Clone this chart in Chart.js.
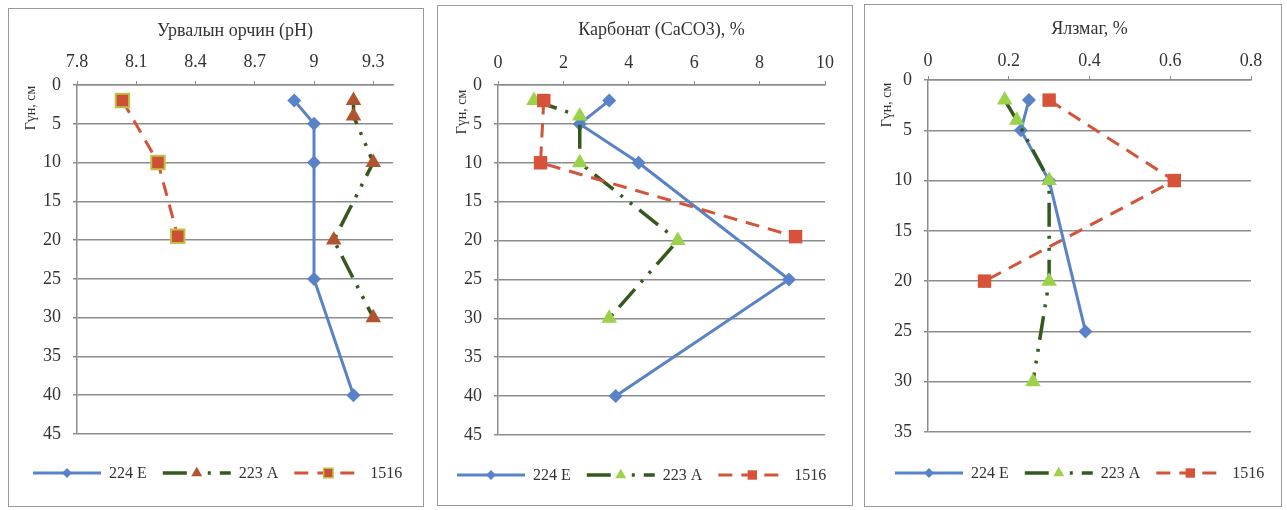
<!DOCTYPE html>
<html>
<head>
<meta charset="utf-8">
<script src="https://cdn.jsdelivr.net/npm/chart.js@4.4.1/dist/chart.umd.min.js"></script>
<style>
  html, body { margin: 0; padding: 0; background: #ffffff; }
  body { width: 1287px; height: 510px; position: relative; overflow: hidden; }
  .panel { position: absolute; border: 1px solid #9a9a9a; background: #ffffff; }
  .panel canvas { display: block; }
</style>
</head>
<body>
<div class="panel"><canvas id="phChart"></canvas></div>
<div class="panel"><canvas id="carbChart"></canvas></div>
<div class="panel"><canvas id="humusChart"></canvas></div>
<script>
// ---- tick labels ----
const depthTicksDeep = [0, 5, 10, 15, 20, 25, 30, 35, 40, 45];
const depthTicksShallow = [0, 5, 10, 15, 20, 25, 30, 35];
const phTicks = [7.8, 8.1, 8.4, 8.7, 9.0, 9.3];
const carbTicks = [0, 2, 4, 6, 8, 10];
const humusTicks = [0, 0.2, 0.4, 0.6, 0.8];

// ---- series names ----
const seriesNames = ['224 E', '223 A', '1516'];

// ---- soil reaction (pH) by depth, cm ----
const phDepth224E = [2, 5, 10, 25, 40];
const ph224E = [8.9, 9.0, 9.0, 9.0, 9.2];
const phDepth223A = [2, 4, 10, 20, 30];
const ph223A = [9.2, 9.2, 9.3, 9.1, 9.3];
const phDepth1516 = [2, 10, 19.5];
const ph1516 = [8.03, 8.21, 8.31];

// ---- carbonate (CaCO3), % by depth, cm ----
const carbDepth224E = [2, 5, 10, 25, 40];
const carb224E = [3.4, 2.5, 4.3, 8.9, 3.6];
const carbDepth223A = [2, 4, 10, 20, 30];
const carb223A = [1.1, 2.5, 2.5, 5.5, 3.4];
const carbDepth1516 = [2, 10, 19.5];
const carb1516 = [1.4, 1.3, 9.1];

// ---- humus, % by depth, cm ----
const humusDepth224E = [2, 5, 10, 25];
const humus224E = [0.25, 0.23, 0.30, 0.39];
const humusDepth223A = [2, 4, 10, 20, 30];
const humus223A = [0.19, 0.22, 0.30, 0.30, 0.26];
const humusDepth1516 = [2, 10, 20];
const humus1516 = [0.30, 0.61, 0.14];

const SERIF = '"Liberation Serif", "Times New Roman", serif';
const TEXT = '#333333';
const GRID = '#8c8c8c';
const BLUE = '#5a82c8';
const GREEN_LINE = '#35591d';
const RED = '#d2553b';

const toPoints = (xs, ys) => xs.map((v, i) => ({ x: v, y: ys[i] }));
const fmt = v => String(Math.round(v * 100) / 100);

function markerPath(ctx, style, x, y, r) {
  ctx.beginPath();
  if (style === 'rectRot') {
    ctx.moveTo(x, y - r); ctx.lineTo(x + r, y); ctx.lineTo(x, y + r); ctx.lineTo(x - r, y);
  } else if (style === 'triangle') {
    ctx.moveTo(x, y - r);
    ctx.lineTo(x + r * 0.866, y + r * 0.5);
    ctx.lineTo(x - r * 0.866, y + r * 0.5);
  } else {
    const s = r * Math.SQRT1_2;
    ctx.rect(x - s, y - s, 2 * s, 2 * s);
  }
  ctx.closePath();
}

// Panel title, depth axis caption and line+marker legend
const panelDecor = {
  id: 'panelDecor',
  afterDraw(chart, args, o) {
    const ctx = chart.ctx;
    const area = chart.chartArea;
    ctx.save();
    ctx.fillStyle = TEXT;
    ctx.textBaseline = 'middle';
    ctx.textAlign = 'center';
    ctx.font = o.titleSize + 'px ' + SERIF;
    ctx.fillText(o.title, (area.left + area.right) / 2, o.titleY);

    ctx.save();
    ctx.translate(o.depthX, o.depthY);
    ctx.rotate(-Math.PI / 2);
    ctx.font = '14px ' + SERIF;
    ctx.fillText('Гүн, см', 0, 0);
    ctx.restore();

    ctx.font = '16px ' + SERIF;
    ctx.textAlign = 'left';
    let x = o.legendX;
    const y = o.legendY;
    const sample = 68;
    o.legendOrder.forEach(i => {
      const ds = chart.data.datasets[i];
      ctx.strokeStyle = ds.borderColor;
      ctx.lineWidth = ds.borderWidth;
      ctx.setLineDash(ds.borderDash || []);
      ctx.beginPath();
      ctx.moveTo(x, y);
      ctx.lineTo(x + sample, y);
      ctx.stroke();
      ctx.setLineDash([]);
      markerPath(ctx, ds.pointStyle, x + sample / 2, y, ds.pointRadius * 0.7);
      ctx.fillStyle = ds.pointBackgroundColor;
      ctx.fill();
      if (ds.pointBorderWidth) {
        ctx.lineWidth = 1.5;
        ctx.strokeStyle = ds.pointBorderColor;
        ctx.stroke();
      }
      ctx.fillStyle = TEXT;
      ctx.fillText(ds.label, x + sample + 8, y + 1);
      x += sample + 8 + ctx.measureText(ds.label).width + 16;
    });
    ctx.restore();
  }
};

function buildPanel(cfg) {
  const canvas = document.getElementById(cfg.canvas);
  const box = canvas.parentElement;
  const [fx, fy, fw, fh] = cfg.frame;
  const W = fw - 2, H = fh - 2;
  box.style.left = fx + 'px';
  box.style.top = fy + 'px';
  box.style.width = W + 'px';
  box.style.height = H + 'px';
  canvas.width = W; canvas.height = H;
  canvas.style.width = W + 'px'; canvas.style.height = H + 'px';
  const ox = fx + 1, oy = fy + 1;
  const pl = cfg.plot[0] - ox, pt = cfg.plot[1] - oy, pr = cfg.plot[2] - ox, pb = cfg.plot[3] - oy;
  const tickSize = 18, tickLH = tickSize * 1.2;
  const xGap = pt - (cfg.tickY - oy) - tickLH / 2;
  const padLeft = 4;

  const datasets = [
    {
      label: seriesNames[0], data: toPoints(cfg.s224E[0], cfg.s224E[1]),
      borderColor: BLUE, backgroundColor: BLUE, borderWidth: 3,
      pointStyle: 'rectRot', pointRadius: 7, pointBackgroundColor: BLUE,
      pointBorderColor: BLUE, pointBorderWidth: 0, order: 2
    },
    {
      label: seriesNames[1], data: toPoints(cfg.s223A[0], cfg.s223A[1]),
      borderColor: GREEN_LINE, backgroundColor: cfg.triFill, borderWidth: 3.5,
      borderDash: [24, 9, 3, 9, 3, 9],
      pointStyle: 'triangle', pointRadius: 9, pointBackgroundColor: cfg.triFill,
      pointBorderColor: cfg.triFill, pointBorderWidth: 0, order: 1
    },
    {
      label: seriesNames[2], data: toPoints(cfg.s1516[0], cfg.s1516[1]),
      borderColor: RED, backgroundColor: cfg.sqFill, borderWidth: 3,
      borderDash: [14, 9],
      pointStyle: 'rect', pointRadius: 9.5, pointBackgroundColor: cfg.sqFill,
      pointBorderColor: cfg.sqBorder, pointBorderWidth: cfg.sqBorderWidth, order: 0
    }
  ];

  return new Chart(canvas, {
    type: 'scatter',
    data: { datasets: datasets.map(d => Object.assign({ showLine: true, tension: 0, fill: false }, d)) },
    plugins: [panelDecor],
    options: {
      responsive: false,
      animation: false,
      events: [],
      layout: { padding: { left: padLeft, top: 0, right: W - pr, bottom: H - pb } },
      plugins: {
        legend: { display: false },
        tooltip: { enabled: false },
        title: { display: false },
        panelDecor: {
          title: cfg.title, titleSize: cfg.titleSize, titleY: cfg.titleY - oy,
          depthX: cfg.depthPos[0] - ox, depthY: cfg.depthPos[1] - oy,
          legendX: cfg.legend[0] - ox, legendY: cfg.legend[1] - oy,
          legendOrder: [0, 1, 2]
        }
      },
      scales: {
        x: {
          type: 'linear', position: 'top', min: cfg.xRange[0], max: cfg.xRange[1],
          afterBuildTicks: s => { s.ticks = cfg.xTicks.map(v => ({ value: v })); },
          afterFit: s => { s.height = pt; },
          grid: { drawOnChartArea: false, drawTicks: true, tickLength: 4, color: GRID, lineWidth: 1 },
          border: { display: true, color: GRID, width: 1.5 },
          ticks: {
            padding: xGap - 4, color: TEXT, autoSkip: false, maxRotation: 0,
            font: { family: SERIF, size: tickSize, lineHeight: 1.2 },
            callback: v => fmt(v)
          }
        },
        y: {
          type: 'linear', reverse: true, min: 0, max: cfg.yMax,
          afterBuildTicks: s => { s.ticks = cfg.yTicks.map(v => ({ value: v })); },
          afterFit: s => { s.width = pl - padLeft; },
          grid: { color: GRID, lineWidth: 1.5, drawTicks: true, tickLength: 4 },
          border: { display: true, color: GRID, width: 1.5 },
          ticks: {
            padding: 12, color: TEXT, autoSkip: false,
            font: { family: SERIF, size: tickSize, lineHeight: 1.2 },
            callback: v => fmt(v)
          }
        }
      }
    }
  });
}

buildPanel({
  canvas: 'phChart', frame: [8, 8, 416, 499], plot: [77, 85, 393, 434],
  title: 'Урвалын орчин (pH)', titleSize: 18, titleY: 31, tickY: 62,
  depthPos: [31, 108], legend: [33, 473],
  xRange: [7.8, 9.4], xTicks: phTicks, yMax: 45, yTicks: depthTicksDeep,
  s224E: [ph224E, phDepth224E], s223A: [ph223A, phDepth223A], s1516: [ph1516, phDepth1516],
  triFill: '#b0532f', sqFill: '#cf4f36', sqBorder: '#b9c447', sqBorderWidth: 2
});

buildPanel({
  canvas: 'carbChart', frame: [437, 5, 416, 501], plot: [498, 85, 825, 435],
  title: 'Карбонат (CaCO3), %', titleSize: 18, titleY: 30, tickY: 63,
  depthPos: [462, 112], legend: [457, 475],
  xRange: [0, 10], xTicks: carbTicks, yMax: 45, yTicks: depthTicksDeep,
  s224E: [carb224E, carbDepth224E], s223A: [carb223A, carbDepth223A], s1516: [carb1516, carbDepth1516],
  triFill: '#9bd24a', sqFill: '#d6533a', sqBorder: '#d6533a', sqBorderWidth: 0
});

buildPanel({
  canvas: 'humusChart', frame: [864, 4, 418, 503], plot: [928, 80, 1251, 432],
  title: 'Ялзмаг, %', titleSize: 18, titleY: 29, tickY: 61,
  depthPos: [887, 105], legend: [895, 473],
  xRange: [0, 0.8], xTicks: humusTicks, yMax: 35, yTicks: depthTicksShallow,
  s224E: [humus224E, humusDepth224E], s223A: [humus223A, humusDepth223A], s1516: [humus1516, humusDepth1516],
  triFill: '#9bd24a', sqFill: '#d6533a', sqBorder: '#d6533a', sqBorderWidth: 0
});
</script>
</body>
</html>
